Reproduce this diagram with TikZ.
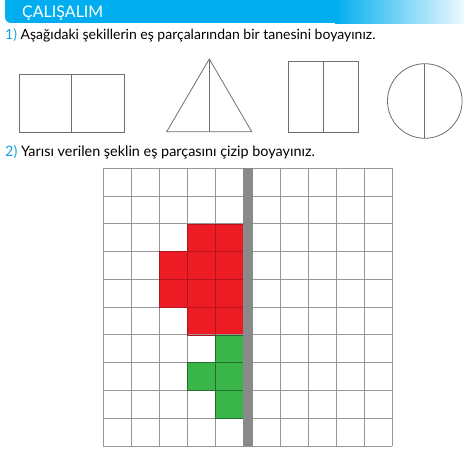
\documentclass[tikz,border=0pt]{standalone}
\usepackage{fontspec}
\setmainfont{Lato}
\definecolor{hblue}{RGB}{0,174,239}
\definecolor{numblue}{RGB}{20,160,225}
\definecolor{cred}{RGB}{237,28,36}
\definecolor{cgreen}{RGB}{57,181,74}
\definecolor{bargray}{RGB}{138,138,141}
\definecolor{linegray}{RGB}{110,110,110}
\definecolor{gridgray}{RGB}{150,150,150}
\tikzset{
  shapeline/.style={draw=linegray, line width=0.8pt},
  gridline/.style={draw=gridgray, line width=1pt},
  bodytext/.style={anchor=base west, inner sep=0pt, font=\fontsize{14}{16}\selectfont},
  redcell/.style={fill=cred, draw=cred!80!black, line width=0.5pt},
  greencell/.style={fill=cgreen, draw=cgreen!70!black, line width=0.5pt}
}
\begin{document}
\begin{tikzpicture}[x=1pt,y=-1pt]
\useasboundingbox (0,0) rectangle (464,452);
% header
\fill[hblue, rounded corners=6pt] (5,-10) rectangle (470,23);
\shade[left color=hblue, right color=hblue!6] (335,-1) rectangle (465,23.2);
\node[anchor=base west, inner sep=0pt, text=white, font=\fontsize{16}{18}\selectfont] (title) at (22,18) {ÇALIŞALIM};
% task 1
\node[bodytext] (q1) at (5,40) {{\color{numblue}1)} Aşağıdaki şekillerin eş parçalarından bir tanesini boyayınız.};
% shapes
\draw[shapeline] (19,74) rectangle (124,132);
\draw[shapeline] (71.5,74) -- (71.5,132);
\draw[shapeline] (166.7,131.7) -- (209.3,59) -- (251.7,131.7) -- cycle;
\draw[shapeline] (209.3,59) -- (209.3,131.7);
\draw[shapeline] (288.3,61.7) rectangle (358.3,132.3);
\draw[shapeline] (323.3,61.7) -- (323.3,132.3);
\draw[shapeline] (424.8,101) circle (37.3);
\draw[shapeline] (424.8,63.7) -- (424.8,138.3);
% task 2
\node[bodytext, font=\fontsize{14.4}{16}\selectfont] (q2) at (5,157) {{\color{numblue}2)} Yarısı verilen şeklin eş parçasını çizip boyayınız.};
% grid
\def\lx{103.3}\def\cw{28}\def\rx{252.7}\def\rw{27.86}\def\ty{168.3}\def\rh{27.77}
\foreach \r/\c in {2/3,2/4,3/2,3/3,3/4,4/2,4/3,4/4,5/3,5/4}{
  \filldraw[redcell] ({\lx+\c*\cw},{\ty+\r*\rh}) rectangle ({\lx+(\c+1)*\cw},{\ty+(\r+1)*\rh});
}
\foreach \r/\c in {6/4,7/3,7/4,8/4}{
  \filldraw[greencell] ({\lx+\c*\cw},{\ty+\r*\rh}) rectangle ({\lx+(\c+1)*\cw},{\ty+(\r+1)*\rh});
}
\foreach \i in {0,...,4}{
  \draw[gridline] ({\lx+\i*\cw},\ty) -- ({\lx+\i*\cw},{\ty+10*\rh});
}
\foreach \i in {1,...,5}{
  \draw[gridline] ({\rx+\i*\rw},\ty) -- ({\rx+\i*\rw},{\ty+10*\rh});
}
\foreach \k in {0,...,10}{
  \draw[gridline] (\lx,{\ty+\k*\rh}) -- (392,{\ty+\k*\rh});
}
\foreach \r/\c in {2/3,2/4,3/2,3/3,3/4,4/2,4/3,4/4,5/3,5/4}{
  \draw[draw=cred!75!black, line width=0.4pt] ({\lx+\c*\cw},{\ty+\r*\rh}) rectangle ({\lx+(\c+1)*\cw},{\ty+(\r+1)*\rh});
}
\foreach \r/\c in {6/4,7/3,7/4,8/4}{
  \draw[draw=cgreen!60!black, line width=0.4pt] ({\lx+\c*\cw},{\ty+\r*\rh}) rectangle ({\lx+(\c+1)*\cw},{\ty+(\r+1)*\rh});
}
\fill[bargray] (243.3,\ty) rectangle (252.7,{\ty+10*\rh});
\end{tikzpicture}
\end{document}
